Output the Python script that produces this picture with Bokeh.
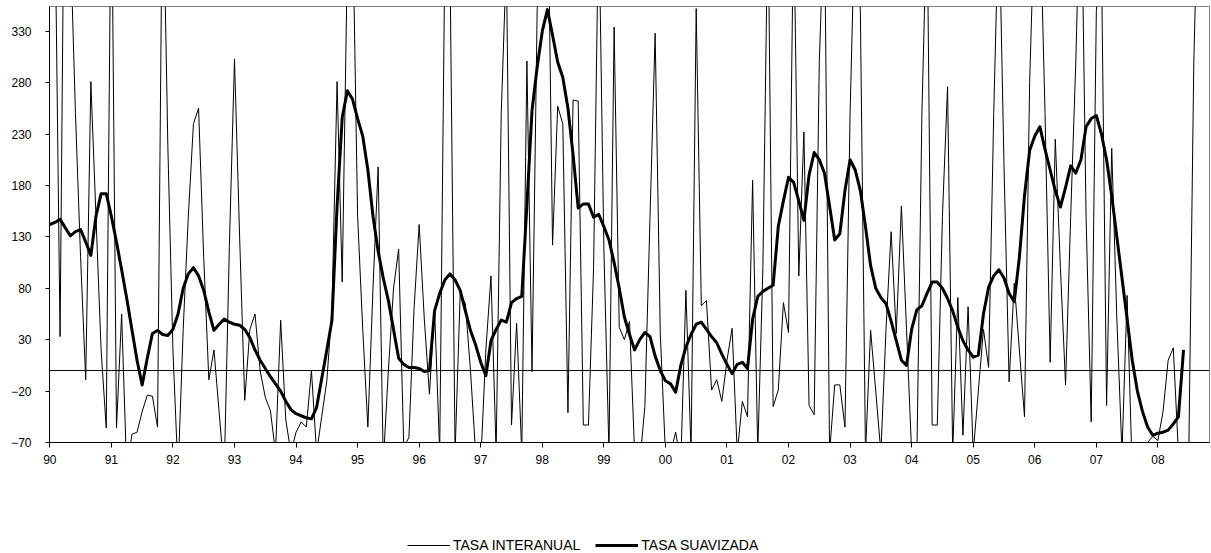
from bokeh.plotting import figure
from bokeh.models import Range1d, FixedTicker, Span, Legend, LegendItem
from bokeh.layouts import column
from bokeh.embed import file_html
from bokeh.resources import INLINE

# ---- data (monthly, Jan 1990 onwards) ----
year_labels = ["90", "91", "92", "93", "94", "95", "96", "97", "98", "99",
               "00", "01", "02", "03", "04", "05", "06", "07", "08"]
y_ticks = [-70, -20, 30, 80, 130, 180, 230, 280, 330]

tasa_interanual = [
    450, 450, 33, 600, 420, 250, 110, -9, 281, 150,
    20, -56, 500, -56, 55, -100, -62, -60, -40, -24,
    -25, -55, 500, 220, 20, -100, 40, 150, 240, 255,
    110, -9, 20, -40, -100, 120, 303, 130, -29, 40,
    55, 0, -26, -39, -80, 49, -48, -80, -60, -50,
    -55, 0, -80, -45, -10, 60, 281, 86, 400, 450,
    150, 40, -55, 80, 198, -90, 0, 80, 118, -75,
    -65, 60, 142, 50, -23, 60, -80, 400, 400, -80,
    75, 65, 0, -80, -90, 20, 92, -80, 250, 400,
    -53, 46, -80, 301, -1, 350, 500, 500, 122, 257,
    240, -41, 263, 262, -53, -53, 100, 450, 120, -80,
    334, 42, 30, 48, -80, -90, -35, 150, 328, 36,
    -80, -80, -60, -90, 78, -80, 352, 63, 68, -19,
    -9, -30, 10, 41, -80, -30, -45, 185, -80, 100,
    450, -35, -19, 66, 37, 450, 92, 232, -34, -43,
    300, 450, -80, -14, -14, -55, 250, 450, 350, -80,
    39, -20, -80, 40, 135, 36, 160, 40, -80, -90,
    250, 450, -53, -53, 150, 276, -80, 71, -63, 62,
    -80, -20, 40, 3, 250, 450, 200, -11, 85, 20,
    -45, 280, 450, 450, 250, 8, 225, 100, -14, 150,
    300, 500, 150, -50, 350, 400, -34, 216, 50, -80,
    73, -100, -120, -90, -70, -64, -68, -40, 10, 22,
    -80, -80, -90, 300, 500,
]

tasa_suavizada = [
    142, 144, 147, 139, 131, 135, 137, 125, 112, 150,
    172, 172, 150, 125, 98, 70, 40, 10, -14, 12,
    36, 39, 35, 34, 40, 55, 80, 94, 100, 92,
    78, 57, 39, 45, 50, 47, 45, 44, 40, 32,
    20, 10, 2, -6, -13, -20, -30, -38, -42, -44,
    -46, -47, -36, -8, 20, 49, 160, 246, 272, 264,
    245, 228, 195, 150, 116, 90, 68, 40, 12, 6,
    3, 3, 2, -1, 0, 58, 75, 88, 94, 88,
    78, 58, 39, 25, 8, -5, 29, 40, 49, 47,
    66, 70, 72, 161, 253, 295, 330, 351, 326, 300,
    285, 255, 210, 158, 162, 162, 149, 152, 140, 127,
    105, 80, 52, 35, 20, 30, 37, 33, 14, 0,
    -10, -13, -21, 5, 23, 35, 45, 47, 40, 33,
    27, 16, 6, -3, 6, 8, 2, 50, 72, 77,
    80, 83, 140, 165, 188, 183, 165, 146, 190, 212,
    205, 192, 160, 127, 133, 175, 205, 195, 175, 140,
    102, 80, 71, 65, 48, 29, 10, 5, 40, 59,
    63, 75, 86, 86, 80, 70, 58, 42, 29, 20,
    13, 15, 55, 81, 92, 98, 90, 75, 67, 110,
    170, 214, 228, 237, 215, 195, 175, 159, 178, 199,
    192, 205, 237, 245, 248, 230, 205, 170, 130, 90,
    50, 10, -20, -40, -55, -63, -61, -60, -58, -52,
    -45, 20,
]

series_names = ["TASA INTERANUAL", "TASA SUAVIZADA"]

FONT = "Liberation Sans"

x_thin = list(range(len(tasa_interanual)))
x_smooth = list(range(len(tasa_suavizada)))

p = figure(width=1211, height=535, output_backend="svg", toolbar_location=None,
           x_range=Range1d(-0.06, 226.06), y_range=Range1d(-70, 354),
           min_border_left=49, min_border_right=2, min_border_top=6,
           min_border_bottom=93, background_fill_color="white",
           border_fill_color="white")

p.xgrid.visible = False
p.ygrid.visible = False
p.outline_line_color = "#808080"
p.outline_line_width = 1

xt = [12 * i for i in range(len(year_labels))]
p.xaxis.ticker = FixedTicker(ticks=xt)
p.xaxis.major_label_overrides = {t: lab for t, lab in zip(xt, year_labels)}
p.xaxis.minor_tick_line_color = None
p.xaxis.major_tick_out = 5
p.xaxis.major_tick_in = 0
p.xaxis.major_label_standoff = 7
p.xaxis.axis_line_color = "black"
p.xaxis.major_tick_line_color = "black"
p.xaxis.major_label_text_font = FONT
p.xaxis.major_label_text_font_size = "12px"
p.xaxis.major_label_text_color = "black"

p.yaxis.ticker = FixedTicker(ticks=y_ticks)
p.yaxis.minor_tick_line_color = None
p.yaxis.major_tick_out = 4
p.yaxis.major_tick_in = 0
p.yaxis.major_label_standoff = 14
p.yaxis.axis_line_color = "black"
p.yaxis.major_tick_line_color = "black"
p.yaxis.major_label_text_font = FONT
p.yaxis.major_label_text_font_size = "12px"
p.yaxis.major_label_text_color = "black"

p.add_layout(Span(location=0, dimension="width", line_color="black", line_width=1))

p.line(x_thin, tasa_interanual, line_color="black", line_width=1)
p.line(x_smooth, tasa_suavizada, line_color="black", line_width=3,
       line_join="round")

# ---- legend strip below the chart (series drawn off-range, only the legend shows) ----
leg = figure(width=1211, height=18, output_backend="svg", toolbar_location=None,
             x_axis_type=None, y_axis_type=None,
             x_range=Range1d(-0.06, 226.06), y_range=Range1d(5000, 5001),
             min_border_left=0, min_border_right=0, min_border_top=0,
             min_border_bottom=0, outline_line_color=None,
             background_fill_color="white", border_fill_color="white")
leg.xgrid.visible = False
leg.ygrid.visible = False
g1 = leg.line(x_thin, tasa_interanual, line_color="black", line_width=1)
g2 = leg.line(x_smooth, tasa_suavizada, line_color="black", line_width=3)

legend = Legend(items=[LegendItem(label=series_names[0], renderers=[g1]),
                       LegendItem(label=series_names[1], renderers=[g2])],
                orientation="horizontal", location=(358, 0),
                glyph_width=43, glyph_height=12, label_height=12,
                label_standoff=3, spacing=15, padding=0, margin=0,
                border_line_alpha=0, background_fill_alpha=0,
                label_text_font=FONT, label_text_font_size="14px",
                label_text_color="black")
leg.add_layout(legend)

layout = column(p, leg, spacing=0)

open("out.html", "w").write(file_html(layout, INLINE))
